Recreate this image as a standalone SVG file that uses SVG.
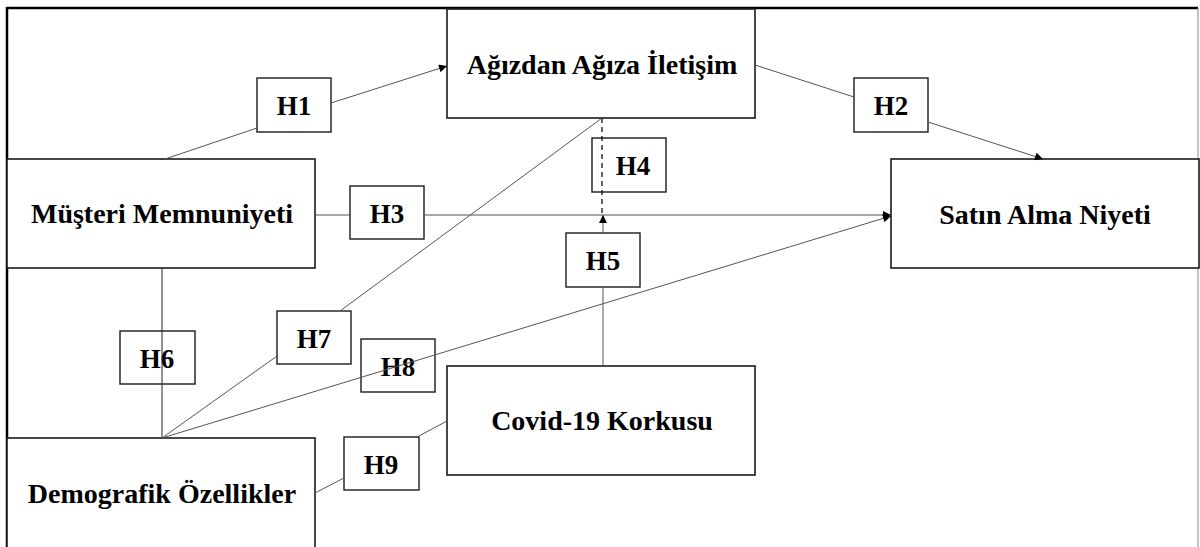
<svg xmlns="http://www.w3.org/2000/svg" width="1200" height="547" viewBox="0 0 1200 547">
<defs>
<marker id="arr" viewBox="0 0 10 10" refX="10" refY="5" markerWidth="10" markerHeight="8" markerUnits="userSpaceOnUse" orient="auto">
<path d="M0,0 L10,5 L0,10 z" fill="#000"/>
</marker>
</defs>
<style>
.box{fill:#fff;stroke:#1a1a1a;stroke-width:1.6}
.hb{fill:#fff;stroke:#1a1a1a;stroke-width:1.4}
.t{font-family:"Liberation Serif","Times New Roman",serif;font-weight:bold;font-size:28px;fill:#000;text-anchor:middle}
.h{font-size:27px}
.c{stroke:#555;stroke-width:1;fill:none}
.d{stroke:#111;stroke-width:1.3;fill:none;stroke-dasharray:5,4}
</style>
<rect width="1200" height="547" fill="#fff"/>
<g id="frame">
<line x1="7" y1="8" x2="1198" y2="8" stroke="#000" stroke-width="2.5"/>
<line x1="7" y1="7" x2="7" y2="547" stroke="#000" stroke-width="2.5"/>
<line x1="1198" y1="8" x2="1198" y2="547" stroke="#888" stroke-width="1"/>
</g>
<g id="n-agizdan"><rect class="box" x="447" y="9" width="308" height="109"/><text class="t" x="602" y="74">Ağızdan Ağıza İletişim</text></g>
<g id="n-musteri"><rect class="box" x="7" y="159" width="308" height="109"/><text class="t" x="162" y="223">Müşteri Memnuniyeti</text></g>
<g id="n-satin"><rect class="box" x="891" y="159" width="308" height="109"/><text class="t" x="1045" y="224">Satın Alma Niyeti</text></g>
<g id="n-covid"><rect class="box" x="447" y="366" width="308" height="109"/><text class="t" x="602" y="430">Covid-19 Korkusu</text></g>
<g id="n-demo"><rect class="box" x="7" y="438" width="308" height="120"/><text class="t" x="162" y="503">Demografik Özellikler</text></g>
<g id="h-boxes">
<g id="h1"><rect class="hb" x="257" y="78" width="74" height="54"/><text class="t h" x="294" y="115">H1</text></g>
<g id="h2"><rect class="hb" x="854" y="78" width="74" height="54"/><text class="t h" x="891" y="115">H2</text></g>
<g id="h3"><rect class="hb" x="350" y="186" width="74" height="53"/><text class="t h" x="387" y="223">H3</text></g>
<g id="h4"><rect class="hb" x="592" y="138" width="74" height="54"/><text class="t h" x="633" y="175">H4</text></g>
<g id="h5"><rect class="hb" x="566" y="233" width="74" height="54"/><text class="t h" x="603" y="270">H5</text></g>
<g id="h6"><rect class="hb" x="120" y="331" width="75" height="53"/><text class="t h" x="157" y="368">H6</text></g>
<g id="h7"><rect class="hb" x="277" y="311" width="74" height="53"/><text class="t h" x="314" y="348">H7</text></g>
<g id="h8"><rect class="hb" x="361" y="339" width="74" height="53"/><text class="t h" x="398" y="376">H8</text></g>
<g id="h9"><rect class="hb" x="344" y="437" width="75" height="53"/><text class="t h" x="381" y="474">H9</text></g>
</g>
<g id="connectors">
<line class="c" x1="165" y1="159" x2="257" y2="128"/>
<line class="c" x1="331" y1="103" x2="447" y2="66" marker-end="url(#arr)"/>
<line class="c" x1="755" y1="65" x2="854" y2="97"/>
<line class="c" x1="928" y1="122" x2="1043" y2="159" marker-end="url(#arr)"/>
<line class="c" x1="315" y1="215" x2="350" y2="215"/>
<line class="c" x1="424" y1="215" x2="891" y2="215" marker-end="url(#arr)"/>
<line class="d" x1="602" y1="118" x2="602" y2="215"/>
<line class="c" x1="603" y1="233" x2="603" y2="215" marker-end="url(#arr)"/>
<line class="c" x1="603" y1="287" x2="603" y2="366"/>
<line stroke="#222" stroke-width="1" x1="162" y1="268" x2="162" y2="438"/>
<line class="c" x1="602" y1="118" x2="340" y2="311"/>
<line class="c" x1="277" y1="356" x2="162" y2="438"/>
<line class="c" x1="162" y1="438" x2="891" y2="216" marker-end="url(#arr)"/>
<line class="c" x1="315" y1="493" x2="344" y2="478"/>
<line class="c" x1="419" y1="436" x2="447" y2="421"/>
</g>
</svg>
